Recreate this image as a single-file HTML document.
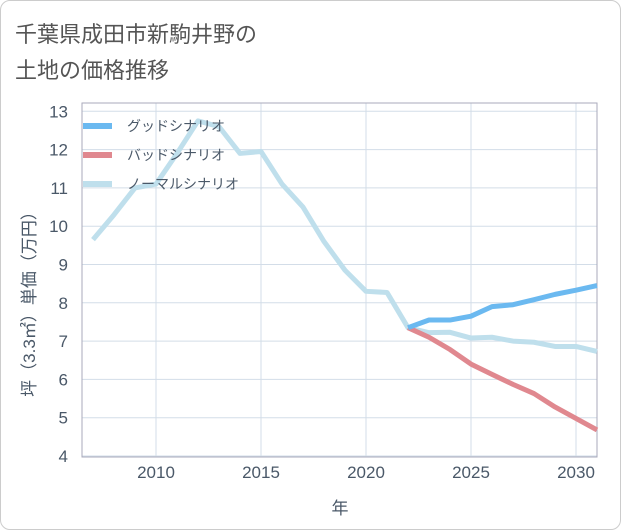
<!DOCTYPE html>
<html><head><meta charset="utf-8"><style>
body{margin:0;background:#fff;}
#wrap{position:relative;width:619px;height:528px;border:1px solid #ccc;border-radius:10px;overflow:hidden;background:#fff;}
.t{position:absolute;left:14px;font:22px "Liberation Sans","Noto Sans CJK JP",sans-serif;color:#555;}
</style></head><body>
<div id="wrap">
<div class="t" style="top:16px">千葉県成田市新駒井野の</div>
<div class="t" style="top:52px">土地の価格推移</div>
<svg id="c" width="621" height="530" style="position:absolute;left:-1px;top:-1px"></svg>
</div>
<script>
const years=[2007,2008,2009,2010,2011,2012,2013,2014,2015,2016,2017,2018,2019,2020,2021,2022,2023,2024,2025,2026,2027,2028,2029,2030,2031];
const normal=[9.65,10.3,11.0,11.1,11.9,12.75,12.6,11.9,11.95,11.1,10.5,9.6,8.85,8.3,8.27,7.35,7.22,7.23,7.08,7.1,7.0,6.97,6.86,6.86,6.73];
const goodYears=[2022,2023,2024,2025,2026,2027,2028,2029,2030,2031];
const good=[7.35,7.55,7.55,7.65,7.9,7.95,8.08,8.22,8.33,8.45];
const bad=[7.35,7.1,6.78,6.4,6.13,5.87,5.63,5.28,4.98,4.68];
const yTicks=[4,5,6,7,8,9,10,11,12,13];
const xTicks=[2010,2015,2020,2025,2030];
const NS="http://www.w3.org/2000/svg",svg=document.getElementById('c');
const L=82,R=597,T=103,B=457;
const X=v=>156+(v-2010)*21, Y=v=>456-(v-4)*38.3;
function mk(t,a){const e=document.createElementNS(NS,t);for(const k in a)e.setAttribute(k,a[k]);svg.appendChild(e);return e;}
const f='"Liberation Sans","Noto Sans CJK JP",sans-serif';
const tc='#4a5868';
yTicks.forEach(v=>{const l=mk('line',{x1:L,x2:R,y1:Y(v),y2:Y(v),stroke:'#d3dde8'});

const t=mk('text',{x:68,y:Y(v)+6,'text-anchor':'end','font-size':17,fill:tc,'font-family':f});t.textContent=v;
});
xTicks.forEach(v=>{const l=mk('line',{x1:X(v),x2:X(v),y1:T,y2:B,stroke:'#d3dde8'});

const t=mk('text',{x:X(v),y:478,'text-anchor':'middle','font-size':17,fill:tc,'font-family':f});t.textContent=v;
});
const fr=mk('rect',{x:L,y:T,width:R-L,height:B-T,fill:'none',stroke:'#aab'});

function line(xs,ys,c,n){const p=mk('polyline',{points:xs.map((x,i)=>X(x)+','+Y(ys[i])).join(' '),fill:'none',stroke:c,'stroke-width':5,'stroke-linejoin':'round'});
}
line(years,normal,'#bfdfec','normal-line');
line(goodYears,bad,'#e0888f','bad-line');
line(goodYears,good,'#6bb9f0','good-line');
[['グッドシナリオ','#6bb9f0'],['バッドシナリオ','#e0888f'],['ノーマルシナリオ','#bfdfec']].forEach((d,i)=>{
const y=126+i*29;
const l=mk('line',{x1:83,x2:112,y1:y,y2:y,stroke:d[1],'stroke-width':6});

const t=mk('text',{x:127,y:y+5,'font-size':14,fill:tc,'font-family':f});t.textContent=d[0];
});
const xt=mk('text',{x:340,y:514,'text-anchor':'middle','font-size':17,fill:tc,'font-family':f});xt.textContent='年';

const yt=mk('text',{x:0,y:0,'text-anchor':'middle','font-size':17,fill:tc,'font-family':f,transform:'translate(35,300) rotate(-90)'});yt.textContent='坪（3.3㎡）単価（万円）';

</script>
</body></html>
